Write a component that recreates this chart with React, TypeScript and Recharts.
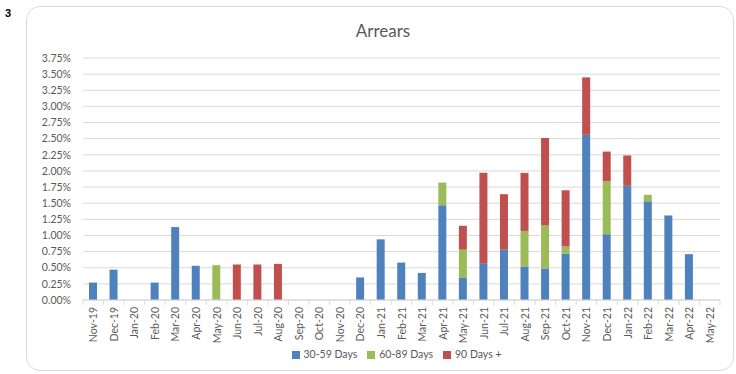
import React from 'react';
import { BarChart, Bar, XAxis, YAxis, CartesianGrid, Legend } from 'recharts';

const months = ['Nov-19','Dec-19','Jan-20','Feb-20','Mar-20','Apr-20','May-20','Jun-20','Jul-20','Aug-20','Sep-20','Oct-20','Nov-20','Dec-20','Jan-21','Feb-21','Mar-21','Apr-21','May-21','Jun-21','Jul-21','Aug-21','Sep-21','Oct-21','Nov-21','Dec-21','Jan-22','Feb-22','Mar-22','Apr-22','May-22'];
const days30to59 = [0.27,0.47,0,0.27,1.13,0.53,0,0,0,0,0,0,0,0.35,0.94,0.58,0.42,1.47,0.35,0.57,0.78,0.52,0.49,0.72,2.56,1.02,1.77,1.53,1.31,0.71,0];
const days60to89 = [0,0,0,0,0,0,0.54,0,0,0,0,0,0,0,0,0,0,0.35,0.43,0,0,0.55,0.67,0.11,0,0.82,0,0.10,0,0,0];
const days90plus = [0,0,0,0,0,0,0,0.55,0.55,0.56,0,0,0,0,0,0,0,0,0.37,1.40,0.86,0.90,1.35,0.87,0.89,0.46,0.47,0,0,0,0];
const yTicks = [0,0.25,0.5,0.75,1,1.25,1.5,1.75,2,2.25,2.5,2.75,3,3.25,3.5,3.75];
const seriesNames = ['30-59 Days','60-89 Days','90 Days +'];
const colors = ['#4F81BD','#9BBB59','#C0504D'];

const data = months.map((m, i) => ({
  month: m,
  d30: days30to59[i],
  d60: days60to89[i],
  d90: days90plus[i],
}));

const W = 736;
const H = 374;
const margin = { top: 58, right: 16, left: 23, bottom: 0 };
const yAxisWidth = 60;
const plotWidth = W - margin.left - margin.right - yAxisWidth;
const band = plotWidth / months.length;
const font = 'Lato, "Liberation Sans", sans-serif';
const textColor = '#595959';

const XTick = (props: any) => {
  const { x, y, payload, index } = props;
  const isLast = index === months.length - 1;
  return (
    <g>
      <line x1={x - band / 2} x2={x - band / 2} y1={y} y2={y + 5} stroke="#d9d9d9" />
      {isLast && <line x1={x + band / 2} x2={x + band / 2} y1={y} y2={y + 5} stroke="#d9d9d9" />}
      <text
        x={x}
        y={y + 7}
        transform={`rotate(-90 ${x} ${y + 7})`}
        textAnchor="end"
        dy={4}
        fontSize={10.5}
        fontFamily={font}
        fill={textColor}
      >
        {payload.value}
      </text>
    </g>
  );
};

export default function App() {
  return (
    <div style={{ position: 'absolute', left: 0, top: 0, width: W, height: H, background: '#fff', fontFamily: font }}>
      <div style={{ position: 'absolute', left: 26, top: 6, width: 708, height: 365, border: '1px solid #d9d9d9', borderRadius: 14, boxSizing: 'border-box' }} />
      <div style={{ position: 'absolute', left: 5, top: 7, fontFamily: 'Arial, "Liberation Sans", sans-serif', fontWeight: 'bold', fontSize: 11, color: '#000' }}>3</div>
      <div style={{ position: 'absolute', left: 0, top: 20, width: W - 0, textAlign: 'center', fontSize: 17, color: textColor, fontFamily: font, paddingLeft: 30, boxSizing: 'border-box' }}>Arrears</div>
      <div style={{ position: 'absolute', left: 0, top: 0 }}>
        <BarChart width={W} height={H} data={data} margin={margin}>
          <CartesianGrid horizontal vertical={false} stroke="#d9d9d9" />
          <XAxis
            dataKey="month"
            interval={0}
            height={48}
            tickLine={false}
            tickSize={0}
            tickMargin={0}
            axisLine={{ stroke: '#d9d9d9' }}
            tick={<XTick />}
          />
          <YAxis
            width={yAxisWidth}
            domain={[0, 3.75]}
            ticks={yTicks}
            interval={0}
            axisLine={false}
            tickLine={false}
            tickSize={0}
            tickMargin={12}
            tickFormatter={(v: number) => `${v.toFixed(2)}%`}
            tick={{ fontSize: 10.5, fontFamily: font, fill: textColor }}
          />
          <Legend
            verticalAlign="bottom"
            height={26}
            iconType="square"
            iconSize={8}
            wrapperStyle={{ fontFamily: font, fontSize: 10.5, paddingLeft: 30 }}
            formatter={(value: string) => <span style={{ color: textColor }}>{value}</span>}
          />
          <Bar dataKey="d30" name={seriesNames[0]} stackId="a" fill={colors[0]} barSize={8} isAnimationActive={false} />
          <Bar dataKey="d60" name={seriesNames[1]} stackId="a" fill={colors[1]} barSize={8} isAnimationActive={false} />
          <Bar dataKey="d90" name={seriesNames[2]} stackId="a" fill={colors[2]} barSize={8} isAnimationActive={false} />
        </BarChart>
      </div>
    </div>
  );
}
